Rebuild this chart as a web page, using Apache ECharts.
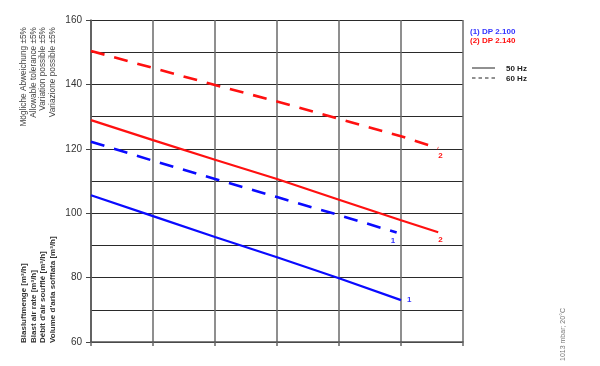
<!DOCTYPE html>
<html>
<head>
<meta charset="utf-8">
<script src="https://cdn.jsdelivr.net/npm/echarts@6/dist/echarts.min.js"></script>
<style>html,body{margin:0;padding:0;background:#fff}#c{width:600px;height:366px}</style>
</head>
<body>
<div id="c"></div>
<script>
// Data (x = grid column position, y = blast air rate m³/h)
var xBlue = [0, 1, 2, 3, 4, 4.93];
var xBlueSolid = [0, 1, 2, 3, 4, 5];
var xRed = [0, 1, 2, 3, 4, 5, 5.6];
var dp2100_50Hz = [105.6, 99.1, 92.6, 86.3, 79.8, 73.0];
var dp2100_60Hz = [122.2, 116.3, 110.6, 105.0, 99.4, 94.0];
var dp2140_50Hz = [128.9, 122.7, 116.6, 110.6, 104.2, 97.8, 94.1];
var dp2140_60Hz = [150.4, 145.1, 139.8, 134.7, 129.3, 123.9, 120.2];
var yTicks = [60, 80, 100, 120, 140, 160];
var legendNames = ['(1) DP 2.100', '(2) DP 2.140'];
var hzNames = ['50 Hz', '60 Hz'];
var endTags = ['1', '1', '2', '2'];
var toleranceText = ['Mögliche Abweichung ±5%', 'Allowable tolerance ±5%', 'Variation possible ±5%', 'Variazione possible ±5%'];
var axisTitle = ['Blasluftmenge [m³/h]', 'Blast air rate [m³/h]', 'Débit d\'air soufflé [m³/h]', 'Volume d\'aria soffiata [m³/h]'];

function pts(xs, ys) {
  return ys.map(function (v, i) { return [xs[i], v]; });
}

var chart = echarts.init(document.getElementById('c'), null, { renderer: 'canvas' });
var BLUE = '#0a0aff', RED = '#ff1010';
var graphics = [];
toleranceText.forEach(function (t, i) {
  graphics.push({ type: 'text', x: 24 + i * 9.6, y: 27, rotation: Math.PI / 2,
    style: { text: t, fontSize: 8.3, fontFamily: 'Liberation Sans', fill: '#444', align: 'right', verticalAlign: 'middle' } });
});
axisTitle.forEach(function (t, i) {
  graphics.push({ type: 'text', x: 24 + i * 9.6, y: 343, rotation: Math.PI / 2,
    style: { text: t, fontSize: 8, fontWeight: 'bold', fontFamily: 'Liberation Sans', fill: '#333', align: 'left', verticalAlign: 'middle' } });
});
graphics.push({ type: 'text', x: 470, y: 32, style: { text: legendNames[0], fontSize: 8, fontWeight: 'bold', fontFamily: 'Liberation Sans', fill: '#3333ff', verticalAlign: 'middle' } });
graphics.push({ type: 'text', x: 470, y: 41, style: { text: legendNames[1], fontSize: 8, fontWeight: 'bold', fontFamily: 'Liberation Sans', fill: RED, verticalAlign: 'middle' } });
graphics.push({ type: 'line', shape: { x1: 472, y1: 68, x2: 495, y2: 68 }, style: { stroke: '#222', lineWidth: 1 } });
graphics.push({ type: 'line', shape: { x1: 472, y1: 78, x2: 495, y2: 78 }, style: { stroke: '#222', lineWidth: 1, lineDash: [3.5, 3] } });
graphics.push({ type: 'text', x: 506, y: 69, style: { text: hzNames[0], fontSize: 8, fontWeight: 'bold', fontFamily: 'Liberation Sans', fill: '#222', verticalAlign: 'middle' } });
graphics.push({ type: 'text', x: 506, y: 79, style: { text: hzNames[1], fontSize: 8, fontWeight: 'bold', fontFamily: 'Liberation Sans', fill: '#222', verticalAlign: 'middle' } });
graphics.push({ type: 'text', x: 563, y: 308, rotation: Math.PI / 2,
  style: { text: '1013 mbar; 20°C', fontSize: 7, fontFamily: 'Liberation Sans', fill: '#777', align: 'right', verticalAlign: 'middle' } });

function endLbl(tag, color, off) {
  return { show: true, formatter: tag, color: color, fontSize: 8, fontWeight: 'bold',
    fontFamily: 'Liberation Sans', distance: 0, offset: off };
}

chart.setOption({
  animation: false,
  backgroundColor: '#fff',
  grid: { left: 91, right: 137, top: 20, bottom: 24, containLabel: false },
  xAxis: {
    type: 'value', min: 0, max: 6, interval: 1,
    axisLine: { show: true, onZero: false, lineStyle: { color: '#555', width: 1.5 } },
    axisTick: { show: true, length: 4, lineStyle: { color: '#666', width: 1.5 } },
    axisLabel: { show: false },
    splitLine: { show: true, lineStyle: { color: '#6a6a6a', width: 1.5 } }
  },
  yAxis: {
    type: 'value', min: 60, max: 160, interval: 20,
    axisLine: { show: true, onZero: false, lineStyle: { color: '#555', width: 1.5 } },
    axisTick: { show: true, length: 5, lineStyle: { color: '#444' } },
    axisLabel: { show: true, color: '#333', fontSize: 10, fontFamily: 'Liberation Sans', margin: 9,
      formatter: function (v) { return yTicks.indexOf(v) >= 0 ? String(v) : ''; } },
    splitLine: { show: true, lineStyle: { color: '#2a2a2a', width: 1 } },
    minorTick: { show: false, splitNumber: 2 },
    minorSplitLine: { show: true, lineStyle: { color: '#2a2a2a', width: 1 } }
  },
  series: [
    { type: 'line', name: legendNames[0] + ' 50Hz', data: pts(xBlueSolid, dp2100_50Hz),
      symbol: 'none', lineStyle: { color: BLUE, width: 2.2 },
      endLabel: endLbl(endTags[0], '#3333ff', [6, 0]) },
    { type: 'line', name: legendNames[0] + ' 60Hz', data: pts(xBlue, dp2100_60Hz),
      symbol: 'none', lineStyle: { color: BLUE, width: 2.6, type: [14, 10] },
      endLabel: endLbl(endTags[1], '#3333ff', [-6, 8]) },
    { type: 'line', name: legendNames[1] + ' 50Hz', data: pts(xRed, dp2140_50Hz),
      symbol: 'none', lineStyle: { color: RED, width: 2.2 },
      endLabel: endLbl(endTags[2], RED, [0, 8]) },
    { type: 'line', name: legendNames[1] + ' 60Hz', data: pts(xRed, dp2140_60Hz),
      symbol: 'none', lineStyle: { color: RED, width: 2.6, type: [14, 10] },
      endLabel: endLbl(endTags[3], RED, [0, 8]) }
  ],
  graphic: graphics
});
</script>
</body>
</html>
